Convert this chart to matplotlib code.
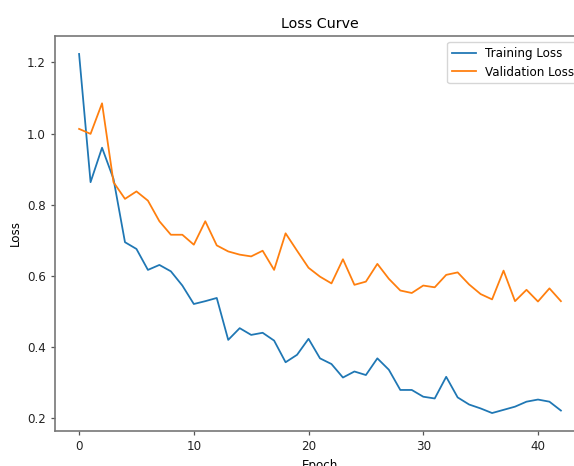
import matplotlib
matplotlib.use("Agg")
import matplotlib.pyplot as plt

# loss per epoch
epochs = list(range(43))
train_loss = [1.224, 0.863, 0.960, 0.872, 0.694, 0.675, 0.616, 0.630, 0.612, 0.572,
              0.520, 0.528, 0.537, 0.419, 0.452, 0.433, 0.439, 0.417, 0.356, 0.377,
              0.422, 0.367, 0.351, 0.313, 0.330, 0.320, 0.367, 0.335, 0.278, 0.278,
              0.259, 0.254, 0.315, 0.257, 0.237, 0.226, 0.213, 0.222, 0.231, 0.245,
              0.251, 0.245, 0.220]
val_loss = [1.013, 0.999, 1.085, 0.863, 0.816, 0.837, 0.811, 0.753, 0.715, 0.715,
            0.687, 0.753, 0.685, 0.668, 0.659, 0.654, 0.670, 0.616, 0.719, 0.670,
            0.622, 0.597, 0.578, 0.646, 0.574, 0.583, 0.633, 0.591, 0.558, 0.551,
            0.572, 0.567, 0.602, 0.609, 0.575, 0.548, 0.533, 0.614, 0.528, 0.560,
            0.527, 0.564, 0.528]

s = 0.855  # reference is a scaled-down, cropped screenshot of an 8x6 figure
plt.rcParams["font.size"] = 10 * s

fig = plt.figure(figsize=(5.74, 4.66), dpi=100)
# axes runs off the right edge like in the screenshot
ax = fig.add_axes([55 / 574, 35 / 466, 530 / 574, 395 / 466])

ax.plot(epochs, train_loss, label="Training Loss", lw=1.5 * s)
ax.plot(epochs, val_loss, label="Validation Loss", lw=1.5 * s)

ax.set_title("Loss Curve")
ax.set_xlabel("Epoch")
ax.set_ylabel("Loss")
ax.legend(loc="upper right")

for sp in ax.spines.values():
    sp.set_color("#777777")
    sp.set_linewidth(1.2)
ax.tick_params(color="#555555", labelcolor="#222222", width=0.9, length=3.5 * s)

fig.savefig("out.png", dpi=100)
